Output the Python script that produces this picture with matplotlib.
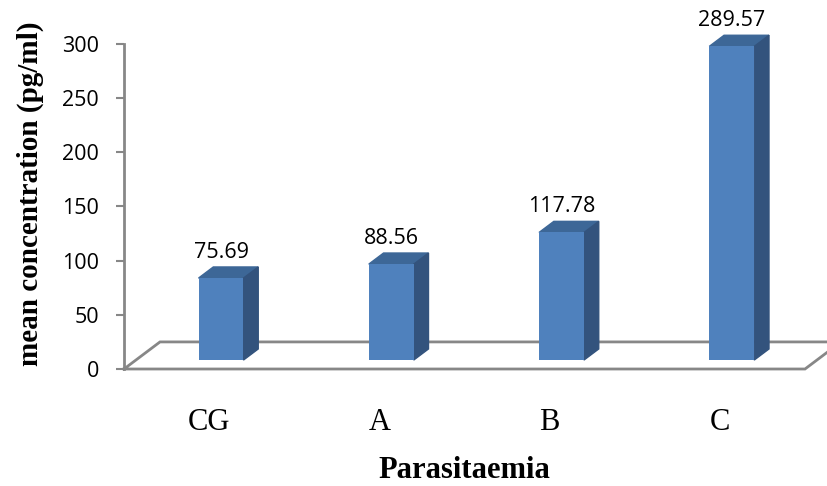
import numpy as np
from matplotlib import pyplot as plt
from matplotlib.patches import Polygon

# data
groups = ["CG", "A", "B", "C"]
means = [75.69, 88.56, 117.78, 289.57]
yticks = [0, 50, 100, 150, 200, 250, 300]

# fake 3d look (depth offsets in data units)
dx = 0.2115
dy = 25.0
f_d = 0.33   # depth of bar front face
b_d = 0.74   # depth of bar back face
w = 0.264

front_col = "#4F81BD"
top_col = "#3D6797"
side_col = "#33537D"
grey = "#878787"

fig = plt.figure(figsize=(8.28, 4.86), dpi=100)
ax = fig.add_axes([124/828, (486-369)/486, 681/828, 325/486])

x = np.arange(len(groups))
xf = x + f_d*dx
base = f_d*dy

# floor
fx = [-0.5, 3.5, 3.5+dx, -0.5+dx, -0.5]
fy = [0, 0, dy, dy, 0]
ax.plot(fx, fy, color=grey, lw=2, clip_on=False, zorder=1, solid_joinstyle="miter")

ax.bar(xf, means, bottom=base, width=w, color=front_col, zorder=3)
sh = (b_d - f_d)
for xi, v in zip(xf, means):
    xl, xr = xi - w/2, xi + w/2
    top = [(xl, v+base), (xr, v+base), (xr+sh*dx, v+b_d*dy), (xl+sh*dx, v+b_d*dy)]
    side = [(xr, base), (xr, v+base), (xr+sh*dx, v+b_d*dy), (xr+sh*dx, b_d*dy)]
    ax.add_patch(Polygon(top, closed=True, color=top_col, zorder=2, clip_on=False))
    ax.add_patch(Polygon(side, closed=True, color=side_col, zorder=2, clip_on=False))
    ax.annotate(f"{v:.2f}", (xi, v + b_d*dy), xytext=(0, 3), textcoords="offset points",
                ha="center", va="bottom", fontsize=15.5, family="Open Sans",
                annotation_clip=False)

ax.set_xlim(-0.5, 3.5)
ax.set_ylim(0, 300)
ax.set_yticks(yticks)
ax.set_yticklabels([str(t) for t in yticks], family="Open Sans", fontsize=15.5)
ax.set_xticks(x)
ax.set_xticklabels(groups, family="Liberation Serif", fontsize=22)
ax.tick_params(axis="x", length=0, pad=28)
ax.tick_params(axis="y", length=6, width=1.5, color=grey, pad=12)
for s in ["top", "right", "bottom"]:
    ax.spines[s].set_visible(False)
ax.spines["left"].set_color(grey)
ax.spines["left"].set_linewidth(2)
ax.patch.set_alpha(0)

fig.text(464.5/828, 1 - 470/486, "Parasitaemia", ha="center", va="center",
         family="Liberation Serif", fontweight="bold", fontsize=22)
fig.text(30/828, 1 - 194/486, "mean concentration (pg/ml)", ha="center", va="center",
         rotation=90, family="Liberation Serif", fontweight="bold", fontsize=21)

fig.savefig("out.png", dpi=100)
